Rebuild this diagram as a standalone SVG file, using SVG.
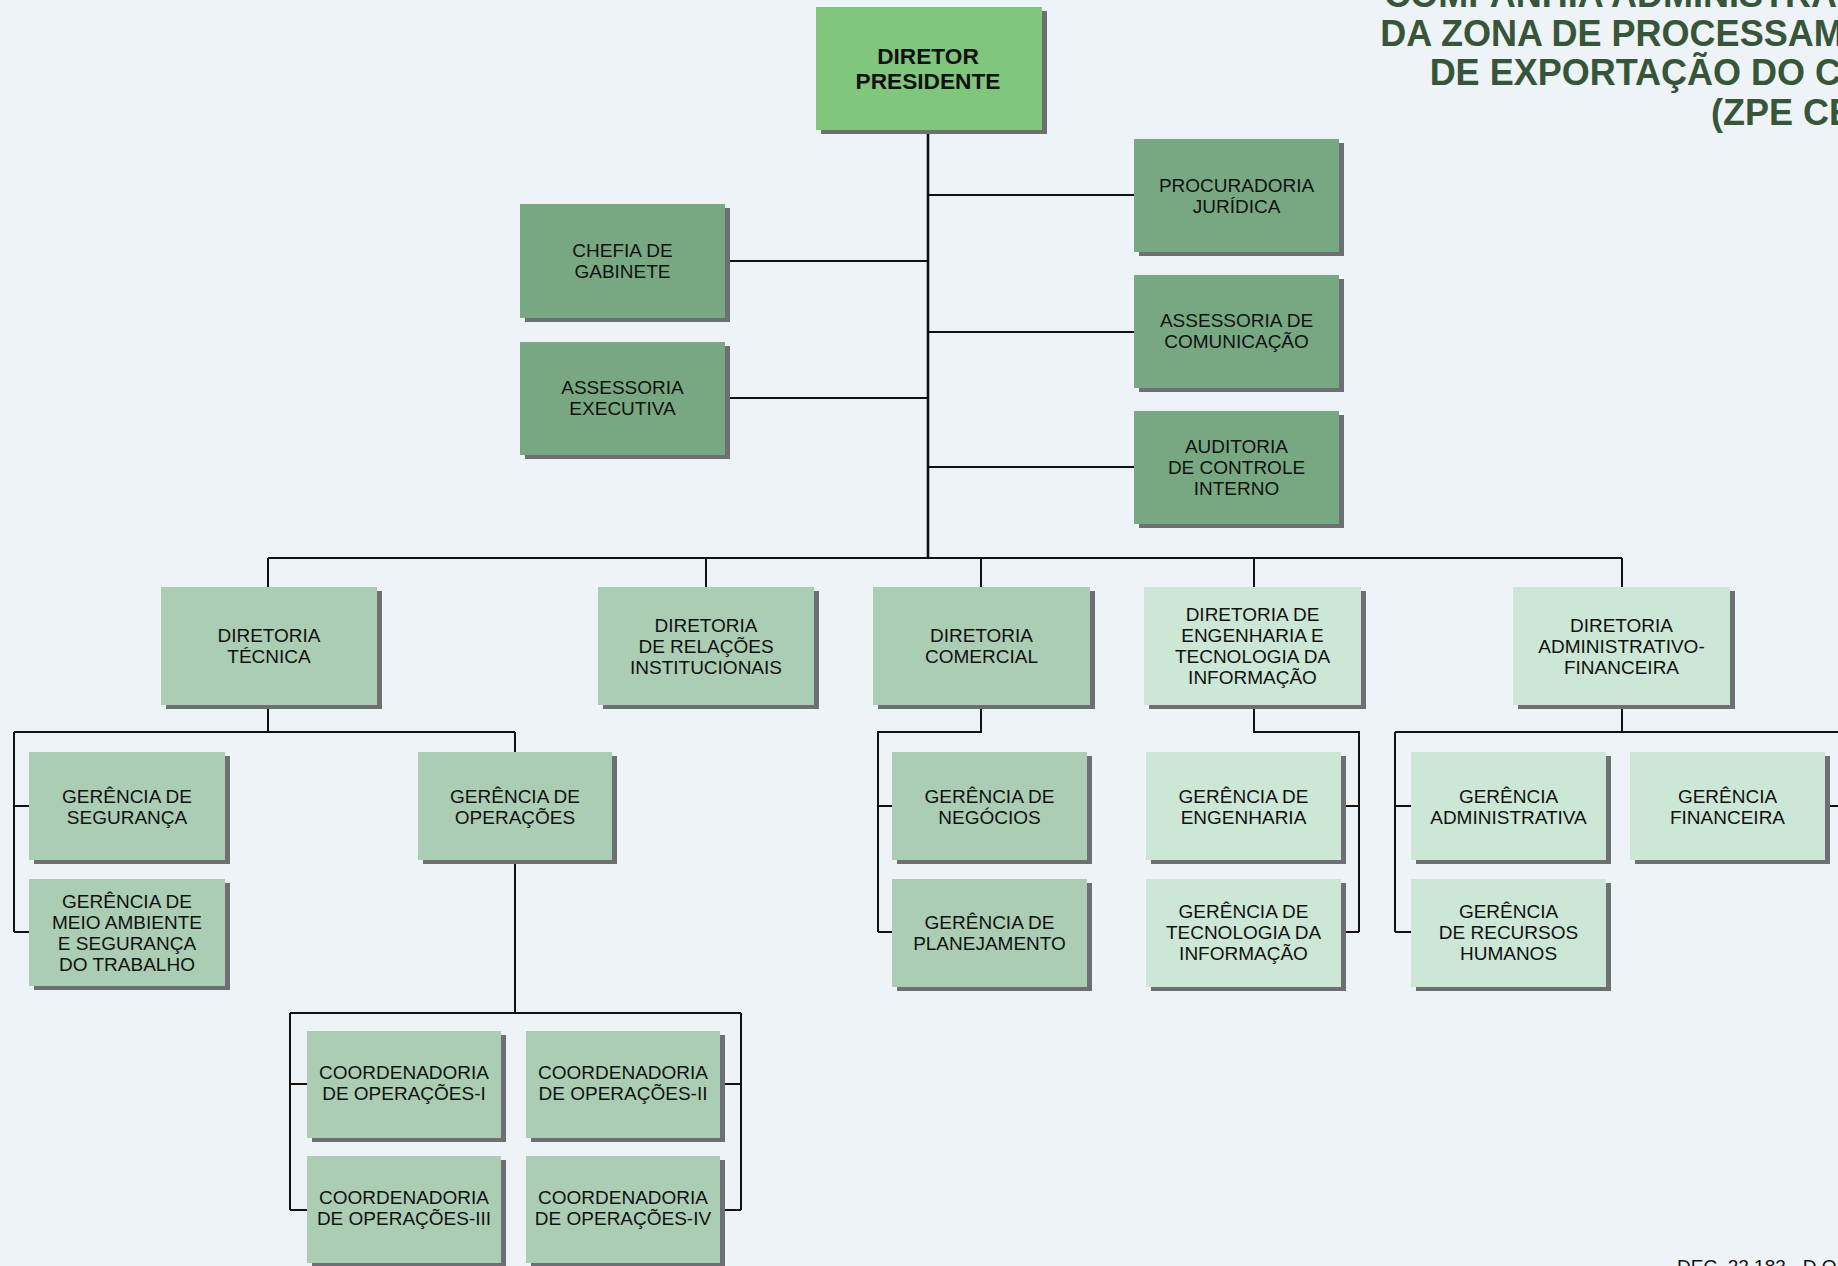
<svg xmlns="http://www.w3.org/2000/svg" width="1838" height="1266" viewBox="0 0 1838 1266">
<defs>
<style>
.bg{fill:#EEF3F8}
.sh{fill:#6E6F73}
.dir{fill:#80C67D}
.staff{fill:#78A882}
.mid{fill:#ABCDB4}
.light{fill:#CDE7D6}
.lbl{font-family:"Liberation Sans",Arial,sans-serif;font-size:19px;fill:#111;text-anchor:middle}
.big{font-family:"Liberation Sans",Arial,sans-serif;font-size:22.7px;font-weight:bold;fill:#111;text-anchor:middle}
.title{font-family:"Liberation Sans",Arial,sans-serif;font-size:36px;font-weight:bold;fill:#375538;text-anchor:end}
.note{font-family:"Liberation Sans",Arial,sans-serif;font-size:19px;fill:#111}
.ln{stroke:#111;stroke-width:2;fill:none}
.trunk{stroke:#111;stroke-width:2.6;fill:none}
</style>
</defs>
<rect class="bg" x="0" y="0" width="1838" height="1266"/>

<g id="title">
<text class="title"><tspan x="1943" y="6.5">COMPANHIA ADMINISTRADORA</tspan><tspan x="1943" y="45.5">DA ZONA DE PROCESSAMENTO</tspan><tspan x="1943" y="85">DE EXPORTAÇÃO DO CEARÁ</tspan><tspan x="1943" y="124.5">(ZPE CEARÁ)</tspan></text>
</g>
<text class="note" x="1677" y="1273">DEC. 22.183 - D.O</text>

<g id="connectors">
<path class="trunk" d="M928 130 V558"/>
<path class="ln" d="M928 195 H1134 M928 332 H1134 M928 467 H1134"/>
<path class="ln" d="M729 261 H928 M729 398 H928"/>
<path class="ln" d="M268 558 H1622 M268 558 V587 M706 558 V587 M981 558 V587 M1254 558 V587 M1622 558 V587"/>
<path class="ln" d="M268 705 V732 M14 732 H515 M14 732 V932 M14 806 H29 M14 932 H29 M515 732 V752"/>
<path class="ln" d="M515 860 V1013 M290 1013 H741 M290 1013 V1210 M290 1084 H307 M290 1210 H307 M741 1013 V1210 M722 1084 H741 M722 1210 H741"/>
<path class="ln" d="M981 705 V732 H878 V932 M878 806 H892 M878 932 H892"/>
<path class="ln" d="M1254 705 V732 H1359 V932 M1344 806 H1359 M1344 932 H1359"/>
<path class="ln" d="M1622 705 V732 M1395 732 H1850 M1395 732 V932 M1395 806 H1411 M1395 932 H1411 M1828 806 H1850"/>
</g>

<g id="n-diretor">
<rect class="sh" x="821" y="11" width="226" height="123"/>
<rect class="dir" x="816" y="7" width="226" height="123"/>
<text class="big"><tspan x="928" y="64">DIRETOR</tspan><tspan x="928" y="89">PRESIDENTE</tspan></text>
</g>

<g id="n-chefia">
<rect class="sh" x="525" y="208" width="205" height="114"/>
<rect class="staff" x="520" y="204" width="205" height="114"/>
<text class="lbl"><tspan x="622.5" y="257.2">CHEFIA DE</tspan><tspan x="622.5" y="278.2">GABINETE</tspan></text>
</g>
<g id="n-assexec">
<rect class="sh" x="525" y="346" width="205" height="113"/>
<rect class="staff" x="520" y="342" width="205" height="113"/>
<text class="lbl"><tspan x="622.5" y="394">ASSESSORIA</tspan><tspan x="622.5" y="415">EXECUTIVA</tspan></text>
</g>
<g id="n-procuradoria">
<rect class="sh" x="1139" y="143" width="205" height="113"/>
<rect class="staff" x="1134" y="139" width="205" height="113"/>
<text class="lbl"><tspan x="1236.5" y="191.7">PROCURADORIA</tspan><tspan x="1236.5" y="212.7">JURÍDICA</tspan></text>
</g>
<g id="n-asscom">
<rect class="sh" x="1139" y="279" width="205" height="113"/>
<rect class="staff" x="1134" y="275" width="205" height="113"/>
<text class="lbl"><tspan x="1236.5" y="326.7">ASSESSORIA DE</tspan><tspan x="1236.5" y="347.7">COMUNICAÇÃO</tspan></text>
</g>
<g id="n-auditoria">
<rect class="sh" x="1139" y="415" width="205" height="113"/>
<rect class="staff" x="1134" y="411" width="205" height="113"/>
<text class="lbl"><tspan x="1236.5" y="452.5">AUDITORIA</tspan><tspan x="1236.5" y="473.5">DE CONTROLE</tspan><tspan x="1236.5" y="494.5">INTERNO</tspan></text>
</g>

<g id="n-dtecnica">
<rect class="sh" x="166" y="591" width="216" height="118"/>
<rect class="mid" x="161" y="587" width="216" height="118"/>
<text class="lbl"><tspan x="269" y="642.2">DIRETORIA</tspan><tspan x="269" y="663.2">TÉCNICA</tspan></text>
</g>
<g id="n-drelacoes">
<rect class="sh" x="603" y="591" width="216" height="118"/>
<rect class="mid" x="598" y="587" width="216" height="118"/>
<text class="lbl"><tspan x="706" y="631.7">DIRETORIA</tspan><tspan x="706" y="652.7">DE RELAÇÕES</tspan><tspan x="706" y="673.7">INSTITUCIONAIS</tspan></text>
</g>
<g id="n-dcomercial">
<rect class="sh" x="878" y="591" width="217" height="118"/>
<rect class="mid" x="873" y="587" width="217" height="118"/>
<text class="lbl"><tspan x="981.5" y="642.2">DIRETORIA</tspan><tspan x="981.5" y="663.2">COMERCIAL</tspan></text>
</g>
<g id="n-dengenharia">
<rect class="sh" x="1149" y="591" width="217" height="118"/>
<rect class="light" x="1144" y="587" width="217" height="118"/>
<text class="lbl"><tspan x="1252.5" y="620.7">DIRETORIA DE</tspan><tspan x="1252.5" y="641.7">ENGENHARIA E</tspan><tspan x="1252.5" y="662.7">TECNOLOGIA DA</tspan><tspan x="1252.5" y="683.7">INFORMAÇÃO</tspan></text>
</g>
<g id="n-dadmfin">
<rect class="sh" x="1518" y="591" width="217" height="118"/>
<rect class="light" x="1513" y="587" width="217" height="118"/>
<text class="lbl"><tspan x="1621.5" y="631.7">DIRETORIA</tspan><tspan x="1621.5" y="652.7">ADMINISTRATIVO-</tspan><tspan x="1621.5" y="673.7">FINANCEIRA</tspan></text>
</g>

<g id="n-gseguranca">
<rect class="sh" x="34" y="756" width="196" height="108"/>
<rect class="mid" x="29" y="752" width="196" height="108"/>
<text class="lbl"><tspan x="127" y="802.5">GERÊNCIA DE</tspan><tspan x="127" y="823.5">SEGURANÇA</tspan></text>
</g>
<g id="n-gmeioamb">
<rect class="sh" x="34" y="883" width="196" height="107"/>
<rect class="mid" x="29" y="879" width="196" height="107"/>
<text class="lbl"><tspan x="127" y="907.5">GERÊNCIA DE</tspan><tspan x="127" y="928.5">MEIO AMBIENTE</tspan><tspan x="127" y="949.5">E SEGURANÇA</tspan><tspan x="127" y="970.5">DO TRABALHO</tspan></text>
</g>
<g id="n-goperacoes">
<rect class="sh" x="423" y="756" width="194" height="108"/>
<rect class="mid" x="418" y="752" width="194" height="108"/>
<text class="lbl"><tspan x="515" y="802.5">GERÊNCIA DE</tspan><tspan x="515" y="823.5">OPERAÇÕES</tspan></text>
</g>
<g id="n-gnegocios">
<rect class="sh" x="897" y="756" width="195" height="108"/>
<rect class="mid" x="892" y="752" width="195" height="108"/>
<text class="lbl"><tspan x="989.5" y="802.5">GERÊNCIA DE</tspan><tspan x="989.5" y="823.5">NEGÓCIOS</tspan></text>
</g>
<g id="n-gplanejamento">
<rect class="sh" x="897" y="883" width="195" height="108"/>
<rect class="mid" x="892" y="879" width="195" height="108"/>
<text class="lbl"><tspan x="989.5" y="929">GERÊNCIA DE</tspan><tspan x="989.5" y="950">PLANEJAMENTO</tspan></text>
</g>
<g id="n-gengenharia">
<rect class="sh" x="1151" y="756" width="195" height="108"/>
<rect class="light" x="1146" y="752" width="195" height="108"/>
<text class="lbl"><tspan x="1243.5" y="802.5">GERÊNCIA DE</tspan><tspan x="1243.5" y="823.5">ENGENHARIA</tspan></text>
</g>
<g id="n-gti">
<rect class="sh" x="1151" y="883" width="195" height="108"/>
<rect class="light" x="1146" y="879" width="195" height="108"/>
<text class="lbl"><tspan x="1243.5" y="918">GERÊNCIA DE</tspan><tspan x="1243.5" y="939">TECNOLOGIA DA</tspan><tspan x="1243.5" y="960">INFORMAÇÃO</tspan></text>
</g>
<g id="n-gadmin">
<rect class="sh" x="1416" y="756" width="195" height="108"/>
<rect class="light" x="1411" y="752" width="195" height="108"/>
<text class="lbl"><tspan x="1508.5" y="802.5">GERÊNCIA</tspan><tspan x="1508.5" y="823.5">ADMINISTRATIVA</tspan></text>
</g>
<g id="n-gfinanceira">
<rect class="sh" x="1635" y="756" width="195" height="108"/>
<rect class="light" x="1630" y="752" width="195" height="108"/>
<text class="lbl"><tspan x="1727.5" y="802.5">GERÊNCIA</tspan><tspan x="1727.5" y="823.5">FINANCEIRA</tspan></text>
</g>
<g id="n-grh">
<rect class="sh" x="1416" y="883" width="195" height="108"/>
<rect class="light" x="1411" y="879" width="195" height="108"/>
<text class="lbl"><tspan x="1508.5" y="918">GERÊNCIA</tspan><tspan x="1508.5" y="939">DE RECURSOS</tspan><tspan x="1508.5" y="960">HUMANOS</tspan></text>
</g>

<g id="n-coord1">
<rect class="sh" x="312" y="1035" width="194" height="107"/>
<rect class="mid" x="307" y="1031" width="194" height="107"/>
<text class="lbl"><tspan x="404" y="1078.7">COORDENADORIA</tspan><tspan x="404" y="1099.7">DE OPERAÇÕES-I</tspan></text>
</g>
<g id="n-coord2">
<rect class="sh" x="531" y="1035" width="194" height="107"/>
<rect class="mid" x="526" y="1031" width="194" height="107"/>
<text class="lbl"><tspan x="623" y="1078.7">COORDENADORIA</tspan><tspan x="623" y="1099.7">DE OPERAÇÕES-II</tspan></text>
</g>
<g id="n-coord3">
<rect class="sh" x="312" y="1160" width="194" height="107"/>
<rect class="mid" x="307" y="1156" width="194" height="107"/>
<text class="lbl"><tspan x="404" y="1204">COORDENADORIA</tspan><tspan x="404" y="1225">DE OPERAÇÕES-III</tspan></text>
</g>
<g id="n-coord4">
<rect class="sh" x="531" y="1160" width="194" height="107"/>
<rect class="mid" x="526" y="1156" width="194" height="107"/>
<text class="lbl"><tspan x="623" y="1204">COORDENADORIA</tspan><tspan x="623" y="1225">DE OPERAÇÕES-IV</tspan></text>
</g>
</svg>
